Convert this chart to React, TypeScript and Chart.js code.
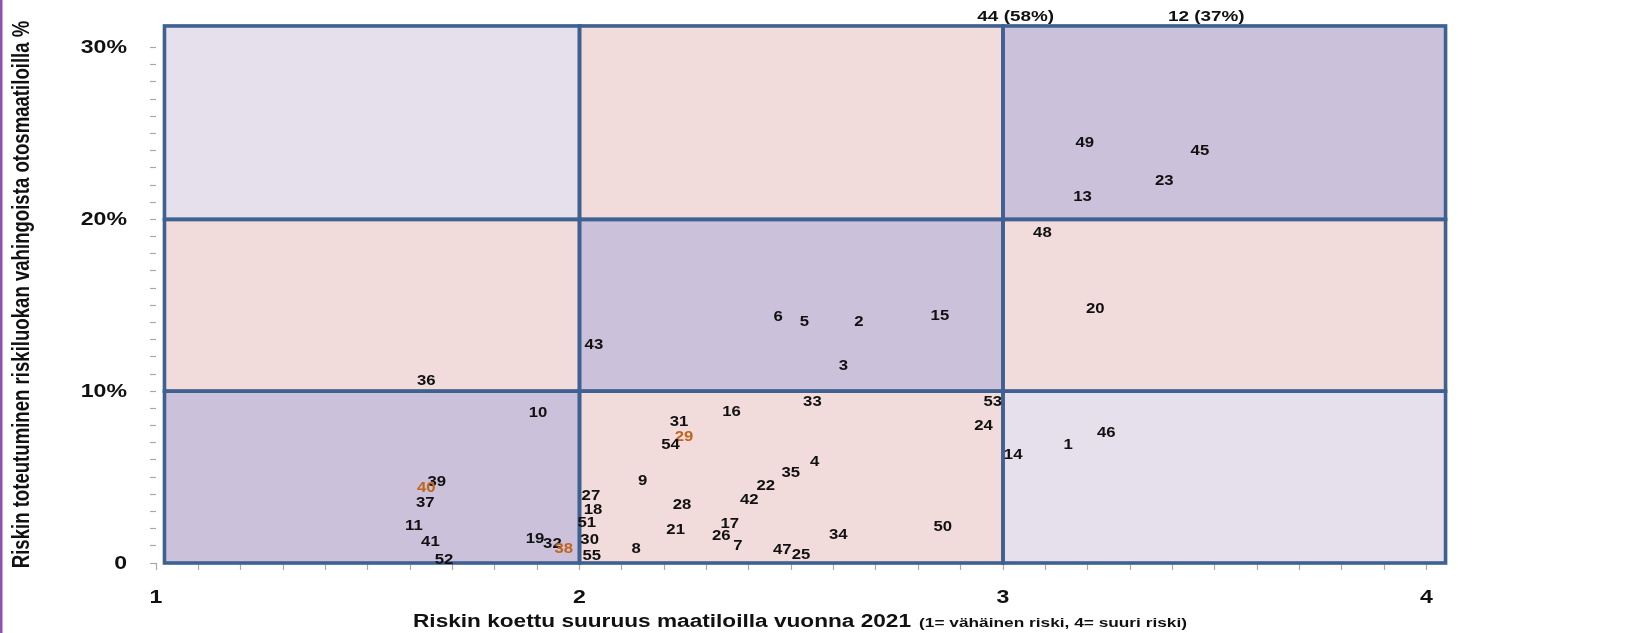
import { useEffect, useRef } from "react";
import { Chart, registerables } from "chart.js";

Chart.register(...registerables);

// ---- data ----
const farmIds = [
  1, 2, 3, 4, 5, 6, 7, 8, 9, 10,
  11, 12, 13, 14, 15, 16, 17, 18, 19, 20,
  21, 22, 23, 24, 25, 26, 27, 28, 29, 30,
  31, 32, 33, 34, 35, 36, 37, 38, 39, 40,
  41, 42, 43, 44, 45, 46, 47, 48, 49, 50,
  51, 52, 53, 54, 55,
];
const perceivedRisk = [
  3.154, 2.66, 2.623, 2.555, 2.531, 2.469, 2.374, 2.134, 2.149, 1.902,
  1.609, 3.48, 3.188, 3.024, 2.851, 2.359, 2.355, 2.032, 1.895, 3.218,
  2.227, 2.44, 3.381, 2.954, 2.523, 2.335, 2.027, 2.242, 2.247, 2.024,
  2.235, 1.936, 2.55, 2.611, 2.499, 1.638, 1.636, 1.963, 1.663, 1.638,
  1.648, 2.401, 2.034, 3.03, 3.465, 3.244, 2.479, 3.093, 3.193, 2.858,
  2.017, 1.68, 2.976, 2.215, 2.029,
];
const realizedPct = [
  6.88, 14.06, 11.47, 5.91, 14.06, 14.36, 1.03, 0.84, 4.77, 8.75,
  2.17, 37, 21.3, 6.28, 14.42, 8.81, 2.29, 3.08, 1.39, 14.79,
  1.93, 4.47, 22.27, 7.97, 0.48, 1.57, 3.92, 3.38, 7.36, 1.33,
  8.21, 1.15, 9.41, 1.63, 5.25, 10.62, 3.5, 0.84, 4.71, 4.41,
  1.21, 3.68, 12.73, 58, 24.02, 7.6, 0.78, 19.25, 24.44, 2.11,
  2.35, 0.18, 9.41, 6.88, 0.42,
];
const highlightIds = [29, 38, 40];

const xTickValues = [1, 2, 3, 4];
const yTickValues = [0, 10, 20, 30];
const zoneXEdges = [1.02, 2, 3, 4.045];
const zoneYEdges = [0, 10, 20, 31.26];

const xTitle = "Riskin koettu suuruus maatiloilla vuonna 2021";
const xTitleNote = "(1= vähäinen riski, 4= suuri riski)";
const yTitle = "Riskin toteutuminen riskiluokan vahingoista otosmaatiloilla %";

// ---- styles ----
const PURPLE = "#cbc1da";
const PINK = "#f2dcdb";
const LAVENDER = "#e6e0ed";
const ZONE_FILL = [
  [PURPLE, PINK, LAVENDER],
  [PINK, PURPLE, PINK],
  [LAVENDER, PINK, PURPLE],
];
const BORDER = "#3f6191";
const FONT = "'Liberation Sans', Arial, sans-serif";
const TEXT = "#111111";
const ORANGE = "#c0661c";

function stretchedText(
  ctx: CanvasRenderingContext2D,
  text: string,
  x: number,
  y: number,
  font: string,
  color: string,
  align: CanvasTextAlign,
  sx: number,
  baseline: CanvasTextBaseline = "middle"
) {
  ctx.save();
  ctx.translate(x, y);
  ctx.scale(sx, 1);
  ctx.font = font;
  ctx.textAlign = align;
  ctx.textBaseline = baseline;
  ctx.fillStyle = color;
  ctx.fillText(text, 0, 0);
  const w = ctx.measureText(text).width * sx;
  ctx.restore();
  return w;
}

const zonePlugin = {
  id: "zones",
  beforeDraw(chart: any) {
    const { ctx } = chart;
    ctx.save();
    ctx.fillStyle = "#9053ab";
    ctx.fillRect(0, 0, 2.5, chart.height);
    ctx.restore();
  },
  beforeDatasetsDraw(chart: any) {
    const { ctx, scales } = chart;
    const x = scales.x;
    const y = scales.y;
    ctx.save();
    for (let r = 0; r < 3; r++) {
      for (let c = 0; c < 3; c++) {
        const x0 = x.getPixelForValue(zoneXEdges[c]);
        const x1 = x.getPixelForValue(zoneXEdges[c + 1]);
        const y0 = y.getPixelForValue(zoneYEdges[r]);
        const y1 = y.getPixelForValue(zoneYEdges[r + 1]);
        ctx.fillStyle = ZONE_FILL[r][c];
        ctx.fillRect(x0, y1, x1 - x0, y0 - y1);
      }
    }
    ctx.strokeStyle = BORDER;
    ctx.lineWidth = 3.6;
    for (let r = 0; r < 3; r++) {
      for (let c = 0; c < 3; c++) {
        const x0 = x.getPixelForValue(zoneXEdges[c]);
        const x1 = x.getPixelForValue(zoneXEdges[c + 1]);
        const y0 = y.getPixelForValue(zoneYEdges[r]);
        const y1 = y.getPixelForValue(zoneYEdges[r + 1]);
        ctx.strokeRect(x0, y1, x1 - x0, y0 - y1);
      }
    }
    ctx.restore();
  },
  afterDatasetsDraw(chart: any) {
    const { ctx, scales } = chart;
    const meta = chart.getDatasetMeta(0);
    const yMax = scales.y.max;
    meta.data.forEach((el: any, i: number) => {
      const id = farmIds[i];
      const color = highlightIds.includes(id) ? ORANGE : TEXT;
      if (realizedPct[i] > yMax) {
        stretchedText(ctx, `${id} (${realizedPct[i]}%)`, el.x, 17, `bold 15.5px ${FONT}`, TEXT, "center", 1.22);
      } else {
        stretchedText(ctx, String(id), el.x, el.y, `bold 15.5px ${FONT}`, color, "center", 1.08);
      }
    });
  },
  afterDraw(chart: any) {
    const { ctx, scales } = chart;
    const x = scales.x;
    const y = scales.y;
    yTickValues.forEach((v) => {
      stretchedText(ctx, v === 0 ? "0" : `${v}%`, 127, y.getPixelForValue(v) + 1, `bold 17.5px ${FONT}`, TEXT, "right", 1.32);
    });
    xTickValues.forEach((v) => {
      stretchedText(ctx, String(v), x.getPixelForValue(v), 598, `bold 17.5px ${FONT}`, TEXT, "center", 1.32);
    });
    const startX = 413;
    const w = stretchedText(ctx, xTitle, startX, 627, `bold 18.8px ${FONT}`, TEXT, "left", 1.205, "alphabetic");
    stretchedText(ctx, xTitleNote, startX + w + 8, 627, `bold 13.5px ${FONT}`, TEXT, "left", 1.28, "alphabetic");
    ctx.save();
    ctx.translate(23, 294.5);
    ctx.scale(1.25, 1);
    ctx.rotate(-Math.PI / 2);
    ctx.font = `bold 18.6px ${FONT}`;
    ctx.textAlign = "center";
    ctx.textBaseline = "middle";
    ctx.fillStyle = TEXT;
    ctx.fillText(yTitle, 0, 0);
    ctx.restore();
  },
};

export default function App() {
  const canvasRef = useRef<HTMLCanvasElement | null>(null);

  useEffect(() => {
    document.body.style.margin = "0";
    const canvas = canvasRef.current;
    if (!canvas) return;
    const points = farmIds.map((_, i) => ({ x: perceivedRisk[i], y: realizedPct[i] }));
    const chart = new Chart(canvas, {
      type: "scatter",
      data: {
        datasets: [
          {
            data: points,
            pointRadius: 0,
            pointHoverRadius: 0,
            showLine: false,
          },
        ],
      },
      options: {
        animation: false,
        responsive: true,
        maintainAspectRatio: false,
        events: [],
        layout: { padding: { left: 0, right: 199.5, top: 47.6, bottom: 0 } },
        plugins: {
          legend: { display: false },
          tooltip: { enabled: false },
        },
        scales: {
          x: {
            type: "linear",
            min: 1,
            max: 4,
            ticks: { stepSize: 0.1, display: false, autoSkip: false },
            grid: {
              drawOnChartArea: false,
              drawTicks: true,
              tickLength: 7,
              tickColor: "#a8a8a8",
              tickWidth: 1.2,
            },
            border: { display: false },
            afterFit: (s: any) => {
              s.height = 70;
            },
          },
          y: {
            type: "linear",
            min: 0,
            max: 30,
            ticks: { stepSize: 1, display: false, autoSkip: false },
            grid: {
              drawOnChartArea: false,
              drawTicks: true,
              tickLength: 6,
              tickColor: "#a8a8a8",
              tickWidth: 1.2,
            },
            border: { display: false },
            afterFit: (s: any) => {
              s.width = 156;
            },
          },
        },
      },
      plugins: [zonePlugin],
    });
    return () => chart.destroy();
  }, []);

  return (
    <div style={{ width: "1626px", height: "633px", position: "relative", background: "#fff" }}>
      <canvas ref={canvasRef} />
    </div>
  );
}
